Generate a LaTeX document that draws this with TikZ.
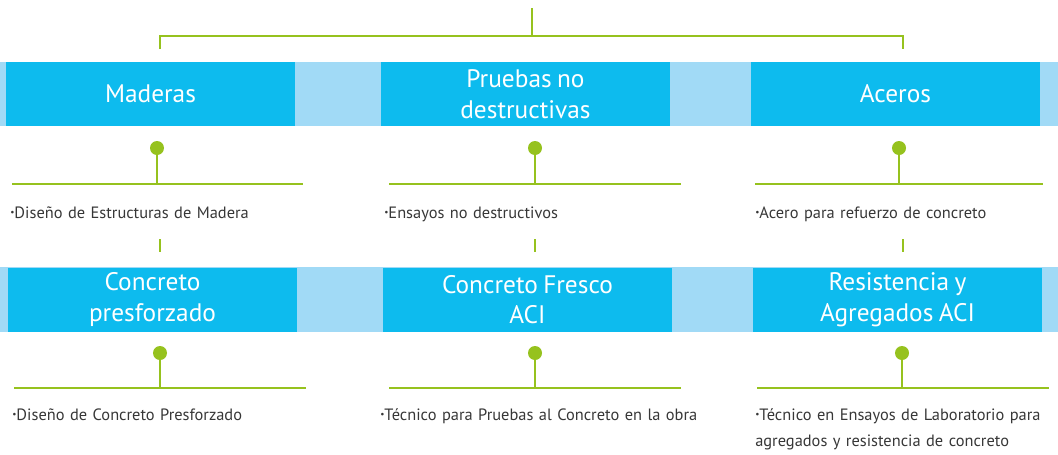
\documentclass[tikz,border=0pt]{standalone}
\usepackage{fontspec}
\setmainfont{PT Sans}[WordSpace=0.8]
\definecolor{verde}{RGB}{150,194,30}
\definecolor{azul}{RGB}{13,187,238}
\definecolor{celeste}{RGB}{161,218,246}
\definecolor{gristexto}{RGB}{55,55,55}
\newcommand{\vineta}{\raisebox{0.15em}{\scriptsize•}}
\tikzset{
  caja/.style={fill=azul, text=white, minimum width=216.75pt, minimum height=48pt,
    inner sep=0pt, align=center, font=\fontsize{19}{23}\selectfont},
  punto/.style={circle, fill=verde, minimum size=10.5pt, inner sep=0pt},
  rama/.style={draw=verde, line width=2.2pt},
  tallo/.style={draw=verde, line width=1.8pt},
  curso/.style={anchor=base west, inner sep=0pt, text width=240pt, align=left,
    text=gristexto, font=\fontsize{12.3}{19.5}\selectfont}
}
\begin{document}
\begin{tikzpicture}[x=0.75pt, y=-0.75pt]
  \useasboundingbox (0,0) rectangle (1058,454);
  % arbol superior
  \coordinate (raiz) at (532,8);
  \coordinate (cruce) at (532,36);
  \coordinate (bajaizq) at (160,49);
  \coordinate (bajader) at (903,49);
  \draw[rama] (raiz) -- (cruce);
  \draw[rama] (bajaizq) |- (cruce) -| (bajader);
  % franjas
  \fill[celeste] (0,62) rectangle (1058,126);
  \fill[celeste] (0,267) rectangle (1058,332);
  \node[caja] (maderas) at (150.5,94) {Maderas};
  \node[caja] (pruebas) at (525.5,94) {Pruebas no\\destructivas};
  \node[caja] (aceros) at (895.5,94) {Aceros};
  \node[caja] (presforzado) at (152.5,299.5) {Concreto\\presforzado};
  \node[caja] (fresco) at (527.5,299.5) {Concreto Fresco\\ACI};
  \node[caja] (resistencia) at (897.5,299.5) {Resistencia y\\Agregados ACI};
  % fila 1
  \foreach \x/\l/\r/\n in {157/12/303/a,535/389/681/b,899/755/1043/c}{
    \node[punto] (pun1\n) at (\x,148) {};
    \coordinate (lin1\n) at (\x,184);
    \draw[rama] (\l,184) -- (\r,184);
    \draw[tallo] (pun1\n) -- (lin1\n);
  }
  \foreach \x in {160,535,903}{
    \draw[rama] (\x,239) -- (\x,252);
  }
  % fila 2
  \foreach \x/\l/\r/\n in {160/14/306/a,535/389/681/b,902/757/1049/c}{
    \node[punto] (pun2\n) at (\x,353) {};
    \coordinate (lin2\n) at (\x,388);
    \draw[rama] (\l,388) -- (\r,388);
    \draw[tallo] (pun2\n) -- (lin2\n);
  }
  % textos
  \node[curso] (dmadera) at (10,218) {\vineta Diseño de Estructuras de Madera};
  \node[curso] (ensayos) at (384,218) {\vineta Ensayos no destructivos};
  \node[curso] (refuerzo) at (755,218) {\vineta Acero para refuerzo de concreto};
  \node[curso] (dpresf) at (12,420) {\vineta Diseño de Concreto Presforzado};
  \node[curso] (obra) at (380,420) {\vineta Técnico para Pruebas al Concreto en la obra};
  \node[curso] (laboratorio) at (755,420) {\vineta Técnico en Ensayos de Laboratorio para\\agregados y resistencia de concreto};
\end{tikzpicture}
\end{document}
